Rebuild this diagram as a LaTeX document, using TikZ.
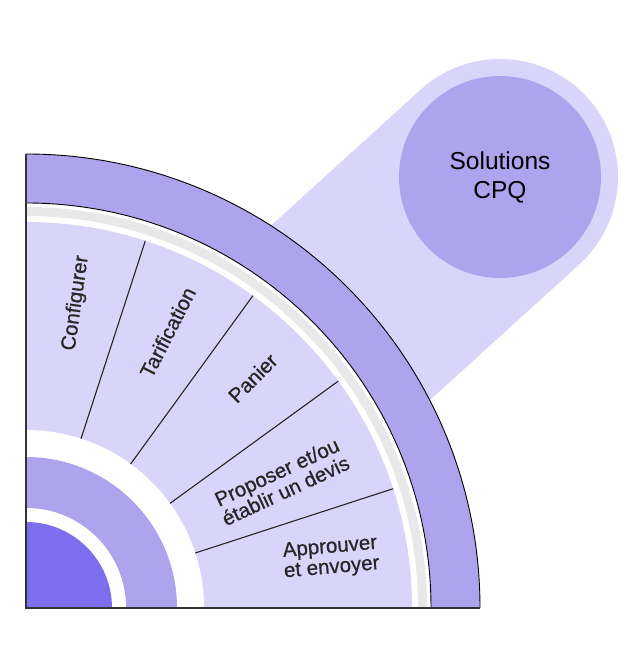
\documentclass[tikz,border=0pt]{standalone}
\usepackage{fontspec}
\setmainfont{Liberation Sans}
\newfontfamily\steplabelfont{Liberation Sans}[FakeBold=0.6]
\definecolor{bandfill}{HTML}{AEA4EE}
\definecolor{sectorfill}{HTML}{D9D4FA}
\definecolor{corefill}{HTML}{7D6EF0}
\definecolor{gapgrey}{HTML}{E8E8E8}
\newcommand{\quarterdisc}[2]{\fill[#1] (0,0) -- (#2,0) arc[start angle=0, end angle=90, radius=#2] -- cycle;}

\begin{document}
\begin{tikzpicture}[x=1pt, y=1pt,
  steplabel/.style={font=\steplabelfont\fontsize{20.5}{20.5}\selectfont, align=center, text=black!85},
  divider/.style={line width=1.1pt, black!85}]
  \useasboundingbox (-26,-60) rectangle (614,608);
  % arm out to the badge
  \coordinate (hub) at (0,0);
  \coordinate (cpq) at (474,431);
  \draw[sectorfill, line width=236pt, line cap=round] (42.3:320) -- (cpq);
  % wheel, outside in
  \quarterdisc{bandfill}{454}
  \quarterdisc{white}{405}
  \quarterdisc{gapgrey}{401}
  \quarterdisc{white}{392}
  \quarterdisc{sectorfill}{386}
  \quarterdisc{white}{178}
  \quarterdisc{bandfill}{151}
  \quarterdisc{white}{100}
  \quarterdisc{corefill}{86}
  \draw[line width=0.9pt] (454,0) arc[start angle=0, end angle=90, radius=454];
  \draw[line width=0.9pt] (405,0) arc[start angle=0, end angle=90, radius=405];
  \foreach \a in {18,36,54,72}
    \draw[divider] (\a:178) -- (\a:386);
  \draw[line width=1.3pt, black!80] (0,454) -- (hub) -- (454,0);
  % step labels
  \node[steplabel, rotate=82] (configurer) at (80.7:309) {Configurer};
  \node[steplabel, rotate=63] (tarification) at (62.8:310) {Tarification};
  \node[steplabel, rotate=45] (panier) at (45.4:323) {Panier};
  \node[steplabel, rotate=25] (proposer) at (26.4:285) {Proposer et/ou\\établir un devis};
  \node[steplabel, rotate=5] (approuver) at (9.3:309) {Approuver\\et envoyer};
  % badge
  \node[circle, fill=bandfill, minimum size=202pt, inner sep=0pt, align=center,
    font=\fontsize{24.5}{29}\selectfont] (badge) at (cpq) {Solutions\\CPQ};
\end{tikzpicture}
\end{document}
